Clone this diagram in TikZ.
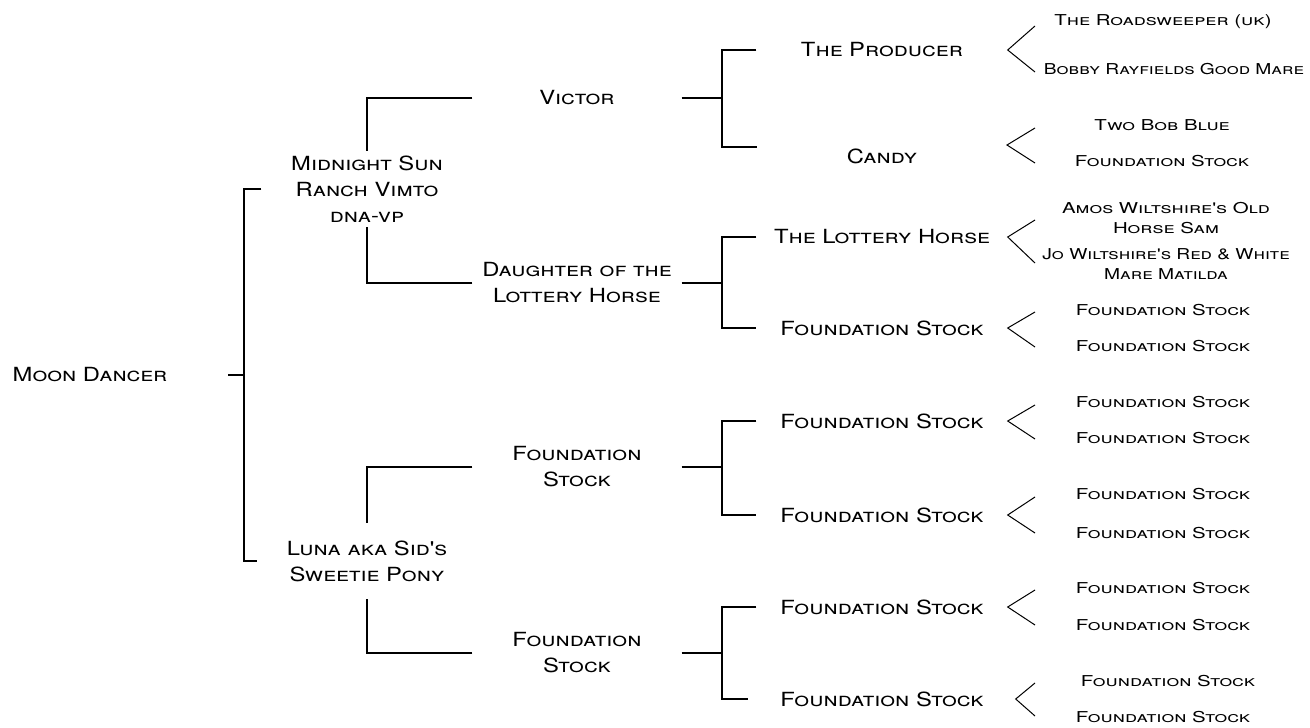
\documentclass[tikz,border=0pt]{standalone}
\usepackage{fontspec}
\usepackage{tikz}
\newfontfamily\copfont[FakeStretch=1.22]{TeX Gyre Heros}
\newfontfamily\copsmall[FakeStretch=1.36]{TeX Gyre Heros}
\newfontfamily\copnarrow[FakeStretch=1.28]{TeX Gyre Heros}
\newcommand{\namefont}{\copfont\scshape\fontsize{19.5}{26}\selectfont}
\newcommand{\sirefont}{\copsmall\scshape\fontsize{15}{19.5}\selectfont}
\newcommand{\narrowsirefont}{\copnarrow\scshape\fontsize{15}{19.5}\selectfont}

\begin{document}
\begin{tikzpicture}[
x=1pt, y=-1pt, line width=1.4pt,
horse/.style = {font=\namefont, align=center, inner sep=0pt},
gentwo/.style = {horse, minimum width=208pt},
genthree/.style = {horse, minimum width=250pt},
far/.style = {font=\sirefont, align=center, inner sep=0pt}]
\path[fill=white, use as bounding box] (0,0) rectangle (1310,728);

\node[horse, anchor=west, text width=215pt, align=left] (moon) at (12,375) {Moon Dancer};
\node[horse, minimum width=210pt, inner ysep=4pt] (vimto) at (367,189) {Midnight Sun\\Ranch Vimto\\dna-vp};
\node[horse, minimum width=218pt, inner ysep=17pt] (luna) at (367,561) {Luna aka Sid's\\Sweetie Pony};

\node[gentwo] (victor) at (577,98) {Victor};
\node[gentwo] (daughter) at (577,283) {Daughter of the\\Lottery Horse};
\node[gentwo] (fsA) at (577,467) {Foundation\\Stock};
\node[gentwo] (fsB) at (577,653) {Foundation\\Stock};

\node[genthree] (producer) at (882,50) {The Producer};
\node[genthree] (candy) at (882,156) {Candy};
\node[genthree] (lottery) at (882,237) {The Lottery Horse};
\node[genthree] (fs1) at (882,328) {Foundation Stock};
\node[genthree] (fs2) at (882,421) {Foundation Stock};
\node[genthree] (fs3) at (882,515) {Foundation Stock};
\node[genthree] (fs4) at (882,607) {Foundation Stock};
\node[genthree, minimum width=266pt] (fs5) at (882,699) {Foundation Stock};

\node[far] (road) at (1163,22) {The Roadsweeper (uk)};
\node[far, font=\narrowsirefont] (bobby) at (1174,69) {Bobby Rayfields Good Mare};
\node[far] (twobob) at (1162,125) {Two Bob Blue};
\node[far] (fsc1) at (1162,161) {Foundation Stock};
\node[far] (amos) at (1166,218) {Amos Wiltshire's Old\\Horse Sam};
\node[far, font=\narrowsirefont] (jo) at (1166,264) {Jo Wiltshire's Red \& White\\Mare Matilda};
\node[far] (fsc2) at (1163,310) {Foundation Stock};
\node[far] (fsc3) at (1163,346) {Foundation Stock};
\node[far] (fsc4) at (1163,402) {Foundation Stock};
\node[far] (fsc5) at (1163,438) {Foundation Stock};
\node[far] (fsc6) at (1163,494) {Foundation Stock};
\node[far] (fsc7) at (1163,533) {Foundation Stock};
\node[far] (fsc8) at (1163,588) {Foundation Stock};
\node[far] (fsc9) at (1163,625) {Foundation Stock};
\node[far] (fsc10) at (1168,681) {Foundation Stock};
\node[far] (fsc11) at (1163,717) {Foundation Stock};

% bracket joints
\coordinate (j0) at (244,375);
\coordinate (j1) at (722,98);
\coordinate (j2) at (722,283);
\coordinate (j3) at (722,467);
\coordinate (j4) at (722,653);
\coordinate (candyin) at (757,147);
\coordinate (candytip) at (1007,145);

% wedge ends
\coordinate (w1a) at (1035,26);  \coordinate (w1b) at (1035,72);
\coordinate (w2a) at (1035,128); \coordinate (w2b) at (1035,163);
\coordinate (w3a) at (1035,220); \coordinate (w3b) at (1035,263);
\coordinate (w4a) at (1035,312); \coordinate (w4b) at (1035,347);
\coordinate (w5a) at (1035,405); \coordinate (w5b) at (1035,439);
\coordinate (w6a) at (1035,497); \coordinate (w6b) at (1035,533);
\coordinate (w7a) at (1035,590); \coordinate (w7b) at (1035,625);
\coordinate (w8a) at (1035,683); \coordinate (w8b) at (1035,716);

\draw (moon.east) -- (j0);
\draw (vimto.west) -| (j0) |- (luna.west);
\draw (victor.west) -| (vimto.north);
\draw (daughter.west) -| (vimto.south);
\draw (fsA.west) -| (luna.north);
\draw (fsB.west) -| (luna.south);

\draw (victor.east) -- (j1);
\draw (producer.west) -| (j1) |- (candyin);
\draw (daughter.east) -- (j2);
\draw (lottery.west) -| (j2) |- (fs1.west);
\draw (fsA.east) -- (j3);
\draw (fs2.west) -| (j3) |- (fs3.west);
\draw (fsB.east) -- (j4);
\draw (fs4.west) -| (j4) |- (fs5.west);

\draw[line width=1pt] (w1a) -- (producer.east) -- (w1b);
\draw[line width=1pt] (w2a) -- (candytip) -- (w2b);
\draw[line width=1pt] (w3a) -- (lottery.east) -- (w3b);
\draw[line width=1pt] (w4a) -- (fs1.east) -- (w4b);
\draw[line width=1pt] (w5a) -- (fs2.east) -- (w5b);
\draw[line width=1pt] (w6a) -- (fs3.east) -- (w6b);
\draw[line width=1pt] (w7a) -- (fs4.east) -- (w7b);
\draw[line width=1pt] (w8a) -- (fs5.east) -- (w8b);
\end{tikzpicture}
\end{document}
